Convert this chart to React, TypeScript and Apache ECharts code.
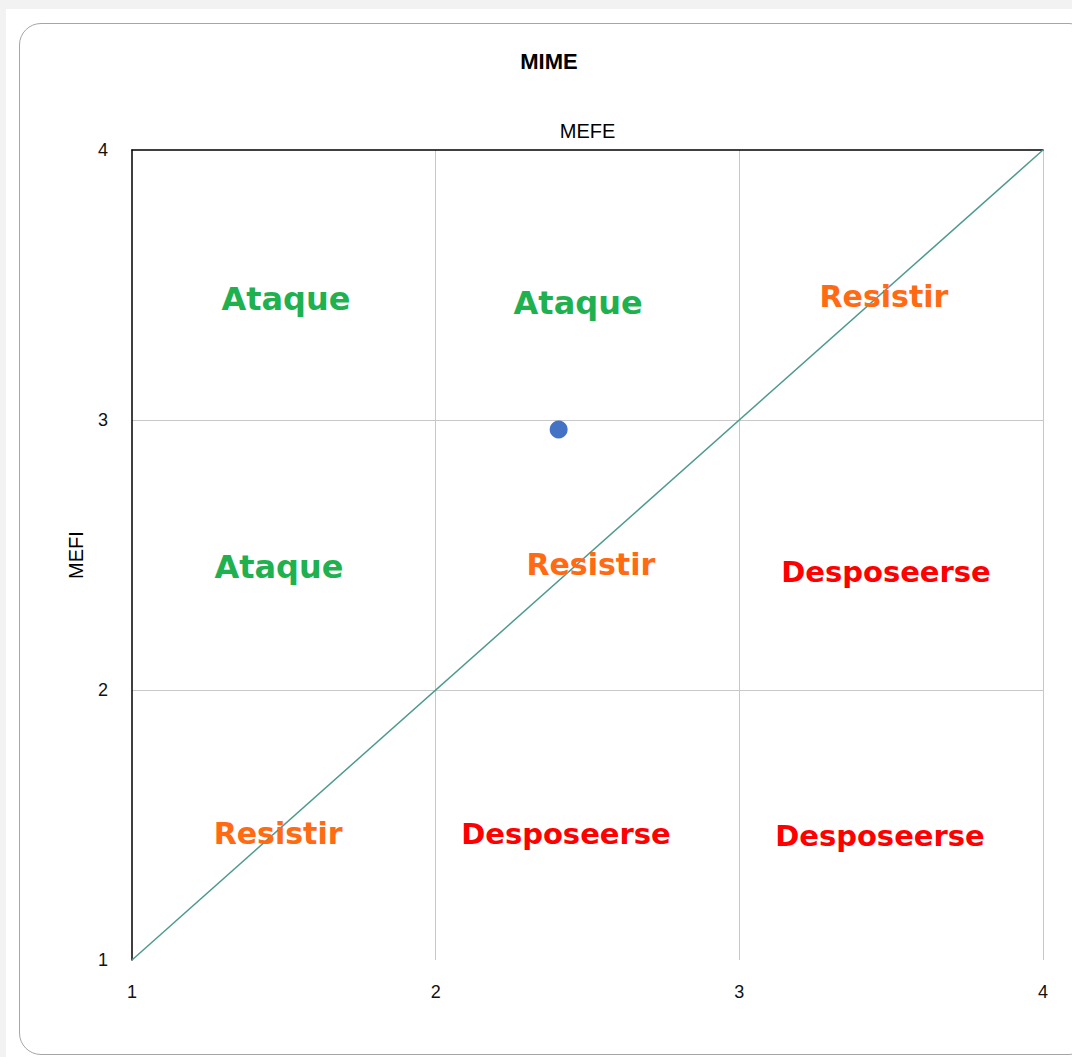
import React, { useEffect, useRef } from "react";
import * as echarts from "echarts";

// Axis setup
const axisMin = 1;
const axisMax = 4;
const axisStep = 1;

// Diagonal reference line
const diagX = [1, 4];
const diagY = [1, 4];

// The single observed point (MEFE, MEFI)
const pointX = [2.405];
const pointY = [2.965];

// Quadrant labels
const ataqueNames = ["Ataque", "Ataque", "Ataque"];
const ataqueX = [1.507, 2.469, 1.484];
const ataqueY = [3.448, 3.433, 2.456];

const resistirNames = ["Resistir", "Resistir", "Resistir"];
const resistirX = [3.476, 2.511, 1.481];
const resistirY = [3.459, 2.463, 1.467];

const desposeerseNames = ["Desposeerse", "Desposeerse", "Desposeerse"];
const desposeerseX = [3.483, 2.429, 3.463];
const desposeerseY = [2.437, 1.467, 1.459];

const titleText = "MIME";
const xName = "MEFE";
const yName = "MEFI";

const zip = (xs: number[], ys: number[]) => xs.map((x, i) => [x, ys[i]]);
const zipNamed = (names: string[], xs: number[], ys: number[]) =>
  names.map((n, i) => ({ name: n, value: [xs[i], ys[i]] }));

const labelSeries = (
  names: string[],
  xs: number[],
  ys: number[],
  color: string,
  size: number
) => ({
  type: "scatter",
  data: zipNamed(names, xs, ys),
  symbolSize: 0,
  silent: true,
  z: 5,
  itemStyle: { opacity: 1 },
  label: {
    show: true,
    position: "inside",
    formatter: "{b}",
    color,
    opacity: 1,
    fontSize: size,
    fontWeight: "bold",
    fontFamily: "'DejaVu Sans', Verdana, sans-serif",
  },
});

export default function App() {
  const ref = useRef<HTMLDivElement>(null);

  useEffect(() => {
    if (!ref.current) return;
    const chart = echarts.init(ref.current, undefined, { renderer: "svg" });
    const tickFont = "'Liberation Sans', Arial, sans-serif";
    chart.setOption({
      animation: false,
      backgroundColor: "transparent",
      graphic: [
        {
          type: "text",
          x: 549,
          y: 61,
          style: {
            text: titleText,
            fill: "#000",
            font: "bold 22px 'Liberation Sans', Arial, sans-serif",
            textAlign: "center",
            textVerticalAlign: "middle",
          },
        },
      ],
      grid: { left: 132, top: 150, right: 29, bottom: 97, containLabel: false },
      xAxis: [
        {
          type: "value",
          position: "bottom",
          min: axisMin,
          max: axisMax,
          interval: axisStep,
          axisLine: { show: false },
          axisTick: { show: false },
          axisLabel: {
            margin: 23,
            color: "#111",
            fontSize: 18,
            fontFamily: tickFont,
          },
          splitLine: {
            show: true,
            showMinLine: false,
            lineStyle: { color: "#c8c8c8", width: 1 },
          },
        },
        {
          type: "value",
          position: "top",
          min: axisMin,
          max: axisMax,
          interval: axisStep,
          axisLine: { show: true, lineStyle: { color: "#000", width: 1.5 } },
          axisTick: { show: false },
          axisLabel: { show: false },
          splitLine: { show: false },
          name: xName,
          nameLocation: "middle",
          nameGap: 9,
          nameTextStyle: { color: "#000", fontSize: 20, fontFamily: tickFont },
        },
      ],
      yAxis: {
        type: "value",
        min: axisMin,
        max: axisMax,
        interval: axisStep,
        axisLine: { show: true, lineStyle: { color: "#000", width: 1.5 } },
        axisTick: { show: false },
        axisLabel: {
          margin: 24,
          color: "#111",
          fontSize: 18,
          fontFamily: tickFont,
        },
        splitLine: {
          show: true,
          showMinLine: false,
          showMaxLine: false,
          lineStyle: { color: "#c8c8c8", width: 1 },
        },
        name: yName,
        nameLocation: "middle",
        nameRotate: 90,
        nameGap: 46,
        nameTextStyle: { color: "#000", fontSize: 20, fontFamily: tickFont },
      },
      series: [
        {
          type: "line",
          data: zip(diagX, diagY),
          xAxisIndex: 0,
          symbol: "none",
          silent: true,
          lineStyle: { color: "#4e9a8f", width: 1.5 },
          z: 3,
        },
        {
          type: "scatter",
          data: zip(pointX, pointY),
          symbolSize: 18,
          itemStyle: { color: "#4472c4", opacity: 1 },
          z: 6,
        },
        labelSeries(ataqueNames, ataqueX, ataqueY, "#1fb14f", 32),
        labelSeries(resistirNames, resistirX, resistirY, "#ff6a13", 30),
        labelSeries(desposeerseNames, desposeerseX, desposeerseY, "#ff0000", 29),
      ],
    });
    return () => chart.dispose();
  }, []);

  return (
    <div
      style={{
        position: "fixed",
        left: 0,
        top: 0,
        width: 1072,
        height: 1057,
        background: "#f2f2f2",
        overflow: "hidden",
      }}
    >
      <div
        style={{
          position: "absolute",
          left: 6,
          top: 9,
          width: 1100,
          height: 1100,
          background: "#ffffff",
        }}
      />
      <div
        style={{
          position: "absolute",
          left: 19,
          top: 23,
          width: 1070,
          height: 1030,
          border: "1.5px solid #a6a6a6",
          borderRadius: 22,
          background: "#ffffff",
        }}
      />
      <div
        ref={ref}
        style={{ position: "absolute", left: 0, top: 0, width: 1072, height: 1057 }}
      />
    </div>
  );
}
